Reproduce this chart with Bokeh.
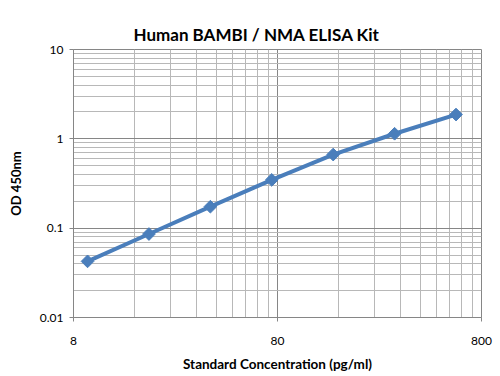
import numpy as np
from bokeh.plotting import figure
from bokeh.models import FixedTicker, Range1d
from bokeh.embed import file_html
from bokeh.resources import INLINE

conc = [9.375, 18.75, 37.5, 75, 150, 300, 600]
od = [0.0425, 0.086, 0.174, 0.347, 0.667, 1.14, 1.87]

x_major = [8, 80, 800]
x_minor = [8 * k for k in range(2, 10)] + [80 * k for k in range(2, 10)]
y_major = [0.01, 0.1, 1, 10]
y_minor = [0.01 * k for k in range(2, 10)] + [0.1 * k for k in range(2, 10)] + [1 * k for k in range(2, 10)]
x_labels = {8: "8", 80: "80", 800: "800"}
y_labels = {0.01: "0.01", 0.1: "0.1", 1: "1", 10: "10"}

FONT = "Lato"
p = figure(width=500, height=376, x_axis_type="log", y_axis_type="log",
           x_range=Range1d(8, 800), y_range=Range1d(0.01, 10),
           output_backend="svg", toolbar_location=None,
           title="Human BAMBI / NMA ELISA Kit")
p.min_border_left = 73
p.min_border_right = 19
p.min_border_top = 49
p.min_border_bottom = 59

p.title.align = "left"
p.title.offset = 60
p.title.text_font = FONT
p.title.text_font_size = "17px"
p.title.text_font_style = "bold"
p.title.text_color = "#000000"

p.xaxis.ticker = FixedTicker(ticks=x_major, minor_ticks=x_minor)
p.yaxis.ticker = FixedTicker(ticks=y_major, minor_ticks=y_minor)
p.xaxis.major_label_overrides = x_labels
p.yaxis.major_label_overrides = y_labels

for ax in (p.xaxis, p.yaxis):
    ax.axis_line_color = "#868686"
    ax.major_tick_line_color = "#868686"
    ax.major_tick_out = 4
    ax.major_tick_in = 0
    ax.minor_tick_line_color = None
    ax.major_label_text_font = FONT
    ax.major_label_text_font_size = "12px"
    ax.major_label_text_color = "#000000"
    ax.axis_label_text_font = FONT
    ax.axis_label_text_font_style = "bold"
    ax.axis_label_text_color = "#000000"

p.xaxis.axis_label_text_font_size = "13.5px"
p.yaxis.axis_label_text_font_size = "13px"
p.xaxis.axis_label = "Standard Concentration (pg/ml)"
p.yaxis.axis_label = "OD 450nm"
p.xaxis.major_label_standoff = 15
p.xaxis.axis_label_standoff = 8
p.yaxis.major_label_standoff = 6
p.yaxis.axis_label_standoff = 13

for g in (p.xgrid, p.ygrid):
    g.grid_line_color = "#868686"
    g.grid_line_width = 1
    g.minor_grid_line_color = "#b8b8b8"
    g.minor_grid_line_width = 1

p.outline_line_color = "#868686"
p.background_fill_color = "white"
p.border_fill_color = "white"

p.line(conc, od, line_color="#4a7ebb", line_width=4)
p.scatter(conc, od, marker="square", angle=np.pi / 4, size=9,
          fill_color="#4a7ebb", line_color="#4a7ebb")

open("out.html", "w").write(file_html(p, INLINE))
